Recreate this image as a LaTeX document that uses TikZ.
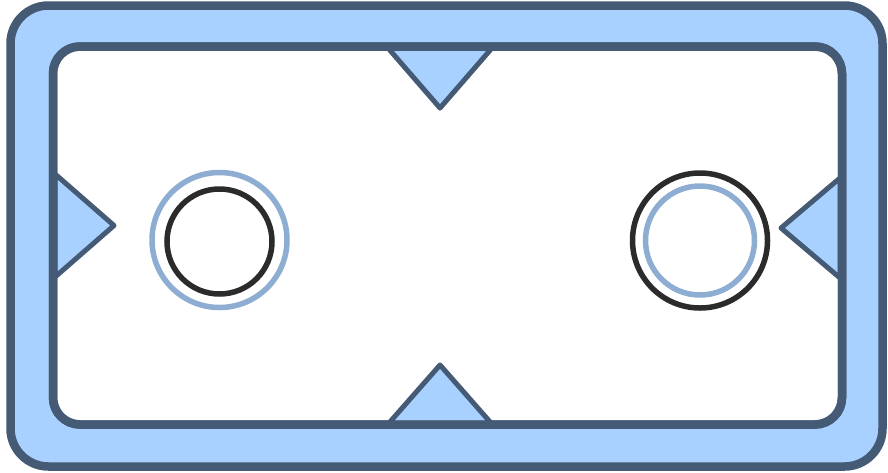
\documentclass[tikz,border=0pt]{standalone}
\definecolor{fillblue}{HTML}{A9D1FF}
\definecolor{slate}{HTML}{455A74}
\definecolor{paleblue}{HTML}{8EADD2}
\definecolor{darkgray}{HTML}{2B2B2B}
\tikzset{
  frame/.style={draw=slate, line width=8.5pt},
  tri/.style={draw=slate, fill=fillblue, line width=5pt, line join=round},
  ringpale/.style={draw=paleblue, line width=5.5pt},
  ringdark/.style={draw=darkgray, line width=5.5pt}
}
\begin{document}
\begin{tikzpicture}[x=1pt,y=-1pt]
\useasboundingbox (0,0) rectangle (888,472);
% outer frame
\draw[frame, fill=fillblue, rounded corners=38pt] (10.5,5.5) rectangle (882.5,466.5);
% inner white panel
\draw[frame, fill=white, rounded corners=27pt] (53,46.5) rectangle (842,424.5);
% triangles
\draw[tri] (388,48) -- (440,108) -- (492,48) -- cycle;
\draw[tri] (389,423) -- (440,365) -- (491,423) -- cycle;
\draw[tri] (55,174) -- (114,225.5) -- (55,277) -- cycle;
\draw[tri] (840,178) -- (781,228) -- (840,278) -- cycle;
% redraw inner frame stroke over triangle bases
\draw[frame, rounded corners=27pt] (53,46.5) rectangle (842,424.5);
% left circles
\draw[ringpale] (219.5,240) circle[radius=67.5];
\draw[ringdark] (219.5,241.5) circle[radius=52.5];
% right circles
\draw[ringdark] (700,240.5) circle[radius=67.5];
\draw[ringpale] (700,240.5) circle[radius=54.5];
\end{tikzpicture}
\end{document}
